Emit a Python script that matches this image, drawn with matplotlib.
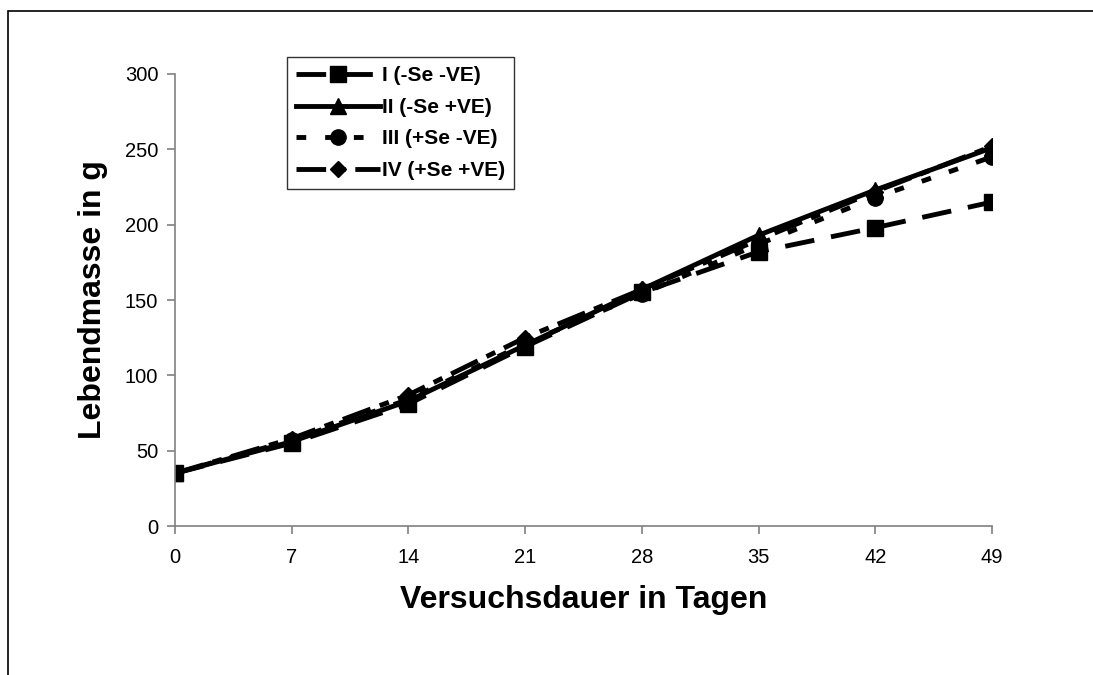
import numpy as np
from matplotlib import pyplot as plt
from matplotlib.patches import Rectangle

plt.rcParams['font.family'] = ['Liberation Sans', 'DejaVu Sans']

# Versuchsdauer (Tage) and Lebendmasse (g) per group
days = [0, 7, 14, 21, 28, 35, 42, 49]
grp1 = [35, 55, 81, 119, 155, 182, 198, 215]
grp2 = [35, 56, 83, 120, 157, 193, 223, 251]
grp3 = [35, 57, 84, 121, 154, 187, 218, 245]
grp4 = [35, 58, 87, 125, 157, 190, 222, 252]
labels = ["I (-Se -VE)", "II (-Se +VE)", "III (+Se -VE)", "IV (+Se +VE)"]

fig = plt.figure(figsize=(10.93, 6.75), dpi=100)
ax = fig.add_axes([0.160, 0.2207, 0.7476, 0.6697])

lw = 3.5
ax.plot(days, grp1, color='black', lw=lw, marker='s', ms=11, dashes=(6.1, 3.5), label=labels[0])
ax.plot(days, grp2, color='black', lw=lw, marker='^', ms=11, label=labels[1])
ax.plot(days, grp3, color='black', lw=lw, marker='o', ms=11, dashes=(2.0, 3.9), label=labels[2])
ax.plot(days, grp4, color='black', lw=lw, marker='D', ms=8.5, dashes=(6.1, 2.0, 2.0, 2.0), label=labels[3])

ax.set_xlim(0, 49)
ax.set_ylim(0, 300)
ax.set_xticks(days)
ax.set_yticks(np.arange(0, 301, 50))
for s in ['top', 'right']:
    ax.spines[s].set_visible(False)
for s in ['left', 'bottom']:
    ax.spines[s].set_color('#808080')
    ax.spines[s].set_linewidth(1.2)
ax.tick_params(direction='out', length=6, width=1.2, color='#808080', labelsize=14.5)
ax.tick_params(axis='x', pad=10)
ax.tick_params(axis='y', pad=6)

ax.set_xlabel("Versuchsdauer in Tagen", fontsize=23, fontweight='bold', labelpad=13)
ax.set_ylabel("Lebendmasse in g", fontsize=23, fontweight='bold', labelpad=12)

leg = ax.legend(loc='upper left', bbox_to_anchor=(287/1093, 1-57/675), bbox_transform=fig.transFigure,
                frameon=True, fancybox=False, edgecolor='black', handlelength=4.0,
                prop={'size': 15, 'weight': 'bold'}, borderaxespad=0, labelspacing=0.6,
                handletextpad=0.1, borderpad=0.45)
leg.get_frame().set_linewidth(1.0)

# outer chart frame
fig.patches.append(Rectangle((8/1093, -0.1), 1.2, 1 - 11/675 + 0.1, transform=fig.transFigure,
                             fill=False, edgecolor='black', lw=1.2))

plt.savefig('out.png', dpi=100)
